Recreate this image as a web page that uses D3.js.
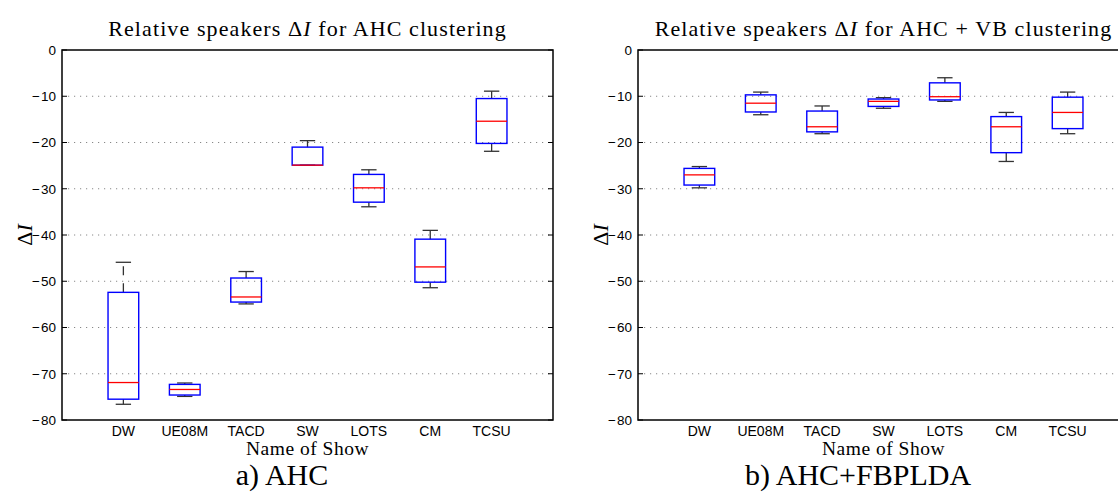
<!DOCTYPE html>
<html>
<head>
<meta charset="utf-8">
<script src="https://cdn.jsdelivr.net/npm/d3@7"></script>
<style>
  body { margin: 0; background: #fff; }
  svg { display: block; }
</style>
</head>
<body>
<div id="chart-container"></div>
<script>
// Show names on the x axis
const shows = ["DW", "UE08M", "TACD", "SW", "LOTS", "CM", "TCSU"];
const yTicks = [0, -10, -20, -30, -40, -50, -60, -70, -80];

// a) AHC : whisker low, q1, median, q3, whisker high
const ahcLow = [-76.6, -74.9, -54.9, -24.9, -33.9, -51.4, -21.9];
const ahcQ1 = [-75.5, -74.6, -54.5, -24.9, -32.9, -50.2, -20.2];
const ahcMed = [-71.9, -73.4, -53.4, -24.9, -29.8, -46.9, -15.4];
const ahcQ3 = [-52.4, -72.3, -49.3, -21.0, -26.9, -40.9, -10.5];
const ahcHigh = [-45.9, -72.0, -47.9, -19.6, -25.9, -39.0, -8.9];

// b) AHC+FBPLDA
const vbLow = [-29.8, -14.0, -18.1, -12.6, -11.1, -24.1, -18.1];
const vbQ1 = [-29.2, -13.4, -17.7, -12.2, -10.8, -22.2, -17.0];
const vbMed = [-27.0, -11.5, -16.6, -11.1, -10.1, -16.6, -13.5];
const vbQ3 = [-25.6, -9.7, -13.2, -10.6, -7.1, -14.4, -10.2];
const vbHigh = [-25.2, -9.1, -12.1, -10.3, -6.0, -13.5, -9.1];

const W = 1118, H = 493;
const plotW = 491, plotH = 370, plotTop = 50;
const serif = "'Liberation Serif', 'Times New Roman', serif";
const sans = "'Liberation Sans', Arial, sans-serif";

const svg = d3.select("#chart-container")
  .append("svg")
  .attr("width", W)
  .attr("height", H);

function makeRows(low, q1, med, q3, high) {
  return shows.map((s, i) => ({
    name: s, pos: i + 1,
    low: low[i], q1: q1[i], med: med[i], q3: q3[i], high: high[i]
  }));
}

function drawPanel(left, rows, title, caption, captionX) {
  const x = d3.scaleLinear().domain([0, 8]).range([0, plotW]);
  const y = d3.scaleLinear().domain([-80, 0]).range([plotH, 0]);

  const g = svg.append("g").attr("transform", `translate(${left},${plotTop})`);

  // dotted grid
  g.selectAll(".grid")
    .data(yTicks.filter(d => d !== 0 && d !== -80))
    .enter().append("line")
    .attr("x1", 0).attr("x2", plotW)
    .attr("y1", d => y(d)).attr("y2", d => y(d))
    .attr("stroke", "#888")
    .attr("stroke-width", 1)
    .attr("stroke-dasharray", "1.2,4.8");

  // y axis labels
  const yAxis = d3.axisLeft(y).tickValues(yTicks).tickSize(0).tickPadding(6)
    .tickFormat(d => d === 0 ? "0" : "\u2212\u200A" + Math.abs(d));
  const ya = g.append("g").call(yAxis);
  ya.select(".domain").remove();
  ya.selectAll("text")
    .attr("font-family", sans)
    .attr("font-size", 13.5)
    .attr("fill", "#000");

  // inward ticks on both sides
  g.selectAll(".tl").data(yTicks).enter().append("line")
    .attr("x1", 0).attr("x2", 5)
    .attr("y1", d => y(d)).attr("y2", d => y(d))
    .attr("stroke", "#000");
  g.selectAll(".tr").data(yTicks).enter().append("line")
    .attr("x1", plotW - 5).attr("x2", plotW)
    .attr("y1", d => y(d)).attr("y2", d => y(d))
    .attr("stroke", "#000");

  // x tick labels
  g.selectAll(".xl").data(shows).enter().append("text")
    .attr("x", (d, i) => x(i + 1))
    .attr("y", plotH + 16)
    .attr("text-anchor", "middle")
    .attr("font-family", sans)
    .attr("font-size", 14)
    .text(d => d);

  // boxes
  const bw = x(0.25) - x(0);
  const cw = x(0.125) - x(0);
  const box = g.selectAll(".box").data(rows).enter().append("g");

  // whiskers, dashed from box edge outward
  box.append("line")
    .attr("x1", d => x(d.pos)).attr("x2", d => x(d.pos))
    .attr("y1", d => y(d.q3)).attr("y2", d => y(d.high))
    .attr("stroke", "#333").attr("stroke-width", 1.3)
    .attr("stroke-dasharray", "9,8");
  box.append("line")
    .attr("x1", d => x(d.pos)).attr("x2", d => x(d.pos))
    .attr("y1", d => y(d.q1)).attr("y2", d => y(d.low))
    .attr("stroke", "#333").attr("stroke-width", 1.3)
    .attr("stroke-dasharray", "9,8");
  // caps
  box.append("line")
    .attr("x1", d => x(d.pos) - cw).attr("x2", d => x(d.pos) + cw)
    .attr("y1", d => y(d.high)).attr("y2", d => y(d.high))
    .attr("stroke", "#333").attr("stroke-width", 1.3);
  box.append("line")
    .attr("x1", d => x(d.pos) - cw).attr("x2", d => x(d.pos) + cw)
    .attr("y1", d => y(d.low)).attr("y2", d => y(d.low))
    .attr("stroke", "#333").attr("stroke-width", 1.3);
  // box body
  box.append("rect")
    .attr("x", d => x(d.pos) - bw)
    .attr("width", 2 * bw)
    .attr("y", d => y(d.q3))
    .attr("height", d => y(d.q1) - y(d.q3))
    .attr("fill", "none")
    .attr("stroke", "#0000ff")
    .attr("stroke-width", 1.4);
  // median
  box.append("line")
    .attr("x1", d => x(d.pos) - bw).attr("x2", d => x(d.pos) + bw)
    .attr("y1", d => y(d.med)).attr("y2", d => y(d.med))
    .attr("stroke", "#ff0000").attr("stroke-width", 1.3);

  // frame
  g.append("rect")
    .attr("width", plotW).attr("height", plotH)
    .attr("fill", "none").attr("stroke", "#000").attr("stroke-width", 1.5);

  // title
  const t = g.append("text")
    .attr("x", plotW / 2).attr("y", -14)
    .attr("text-anchor", "middle")
    .attr("font-family", serif)
    .attr("font-size", 22)
    .attr("letter-spacing", 1.1);
  t.append("tspan").text(title[0]);
  t.append("tspan").attr("font-style", "italic").text("I");
  t.append("tspan").text(title[1]);

  // y label
  const yl = g.append("text")
    .attr("transform", `translate(${-30},${plotH / 2}) rotate(-90)`)
    .attr("text-anchor", "middle")
    .attr("font-family", serif)
    .attr("font-size", 22);
  yl.append("tspan").text("\u0394");
  yl.append("tspan").attr("font-style", "italic").text("I");

  // x label
  g.append("text")
    .attr("x", plotW / 2).attr("y", plotH + 35)
    .attr("text-anchor", "middle")
    .attr("font-family", serif)
    .attr("font-size", 19.5)
    .attr("letter-spacing", 0.5)
    .text("Name of Show");

  // caption
  svg.append("text")
    .attr("x", captionX).attr("y", 485)
    .attr("text-anchor", "middle")
    .attr("font-family", serif)
    .attr("font-size", 30)
    .text(caption);
}

drawPanel(62, makeRows(ahcLow, ahcQ1, ahcMed, ahcQ3, ahcHigh),
  ["Relative speakers \u0394", " for AHC clustering"], "a) AHC", 282);
drawPanel(638, makeRows(vbLow, vbQ1, vbMed, vbQ3, vbHigh),
  ["Relative speakers \u0394", " for AHC + VB clustering"], "b) AHC+FBPLDA", 858);
</script>
</body>
</html>
